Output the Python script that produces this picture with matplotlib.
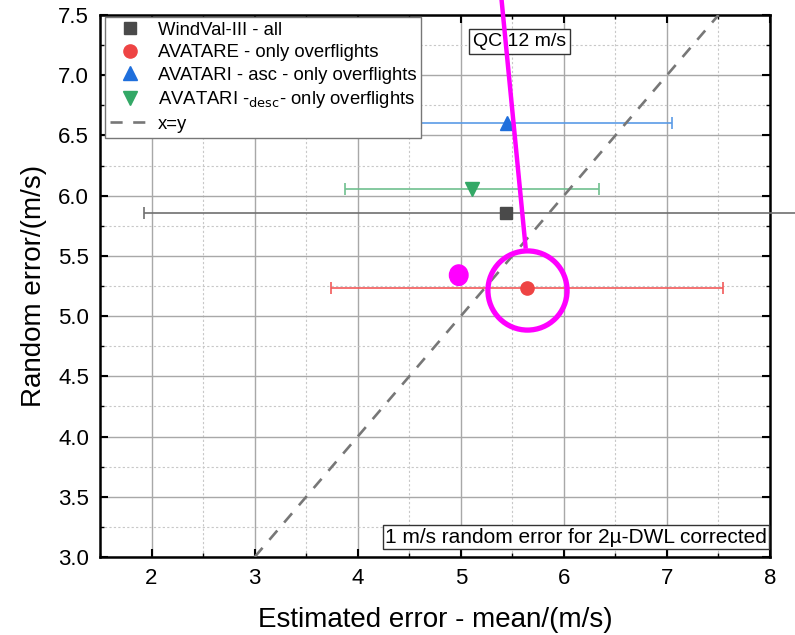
import matplotlib
matplotlib.use("Agg")
import matplotlib.pyplot as plt
from matplotlib.patches import Ellipse
from matplotlib.lines import Line2D

plt.rcParams['font.family'] = ['Liberation Sans', 'DejaVu Sans']

labels = ["WindVal-III - all", "AVATARE - only overflights",
          "AVATARI - asc - only overflights", r"AVATARI -$_{\mathrm{desc}}$- only overflights"]
est_err = [5.44, 5.64, 5.45, 5.11]
rand_err = [5.86, 5.23, 6.60, 6.055]
err_lo = [1.93, 3.74, 3.85, 3.88]
err_hi = [9.0, 7.54, 7.05, 6.34]
markers = ["s", "o", "^", "v"]
colors = ["#4a4a4a", "#ee4444", "#1f6fdc", "#33a866"]
ecolors = ["#707070", "#f25a5a", "#5a9be6", "#70c08f"]
msizes = [8.5, 9.5, 10, 10]

diag = [3.0, 7.5]

fig = plt.figure(figsize=(7.95, 6.35), dpi=100)
ax = fig.add_axes([0.1258, 0.1228, 0.8428, 0.8536])

ax.set_xlim(1.5, 8)
ax.set_ylim(3.0, 7.5)
ax.set_xticks([2, 3, 4, 5, 6, 7, 8])
ax.set_xticks([1.5, 2.5, 3.5, 4.5, 5.5, 6.5, 7.5], minor=True)
yt = [3.0, 3.5, 4.0, 4.5, 5.0, 5.5, 6.0, 6.5, 7.0, 7.5]
ax.set_yticks(yt)
ax.set_yticklabels([f"{v:.1f}" for v in yt])
ax.set_yticks([3.25 + 0.5 * i for i in range(9)], minor=True)
ax.grid(True, which='major', color='#a8a8a8', lw=1.0, ls='-')
ax.grid(True, which='minor', color='#c8c8c8', lw=0.8, ls=(0, (2, 2)))
ax.set_axisbelow(True)

ax.tick_params(which='major', direction='in', length=6, width=1.5, top=True, right=True,
               labelsize=16, pad=8)
ax.tick_params(which='minor', direction='in', length=3, width=1, top=True, right=True)
for s in ax.spines.values():
    s.set_linewidth(1.8)
    s.set_color('black')

handles = []
for i in range(4):
    xe = [[est_err[i] - err_lo[i]], [err_hi[i] - est_err[i]]]
    ax.errorbar([est_err[i]], [rand_err[i]], xerr=xe, fmt='none', ecolor=ecolors[i],
                elinewidth=1.2, capsize=4, capthick=1.2, zorder=3, clip_on=(i != 0))
    ax.plot([est_err[i]], [rand_err[i]], marker=markers[i], color=colors[i], ms=msizes[i],
            ls='none', zorder=4)
    handles.append(Line2D([], [], marker=markers[i], color=colors[i], ms=msizes[i], ls='none',
                          label=labels[i]))

dl, = ax.plot(diag, diag, color='#777777', lw=1.9, ls=(0, (4.6, 4)), zorder=3, label='x=y')
handles.append(dl)

leg = ax.legend(handles=handles, loc='upper left', bbox_to_anchor=(0.008, 0.996),
                fontsize=13.3, frameon=True, fancybox=False, edgecolor='#777777',
                framealpha=1, borderpad=0.25, labelspacing=0.3, handletextpad=0.4,
                handlelength=2.2, borderaxespad=0)
leg.get_frame().set_linewidth(1.0)
leg.set_zorder(5)

ax.text(5.57, 7.28, "QC 12 m/s", fontsize=14, ha='center', va='center', zorder=6,
        bbox=dict(boxstyle='square,pad=0.2', fc='white', ec='#333333', lw=1))
ax.text(7.97, 3.165, "1 m/s random error for 2\u00b5-DWL corrected", fontsize=15,
        ha='right', va='center', zorder=6,
        bbox=dict(boxstyle='square,pad=0.12', fc='white', ec='#333333', lw=1))

ax.set_xlabel("Estimated error - mean/(m/s)", fontsize=20, labelpad=13)
ax.set_ylabel("Random error/(m/s)", fontsize=20, labelpad=8)

# magenta annotations
mag = '#ff00ff'
ax.plot([5.395, 5.63], [7.63, 5.56], color=mag, lw=3.2, clip_on=False, zorder=7,
        solid_capstyle='butt')
ax.plot([5.64], [5.215], marker='o', ms=57, mfc='none', mec=mag, mew=3.8, zorder=7)
ax.add_patch(Ellipse((4.98, 5.34), 0.18, 0.17, color=mag, zorder=7))

fig.savefig("out.png", dpi=100)
